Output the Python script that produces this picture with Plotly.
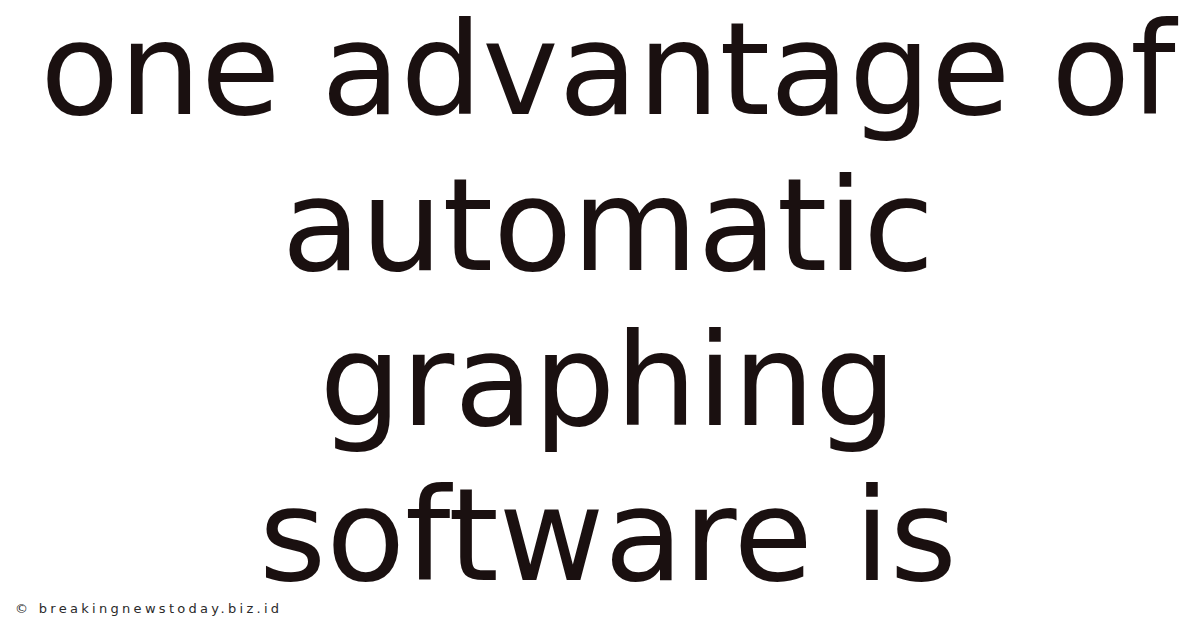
import plotly.graph_objects as go

# Text content of the graphic
title_lines = ["one advantage of", "automatic", "graphing", "software is"]
line_index = [0, 1, 2, 3]
watermark = "© breakingnewstoday.biz.id"

TEXT_COLOR = "#1a1010"

fig = go.Figure()
fig.add_trace(go.Scatter(
    x=[0.5] * len(title_lines),
    y=line_index,
    mode="text",
    text=title_lines,
    textposition="middle center",
    textfont=dict(family="DejaVu Sans", size=129, color=TEXT_COLOR),
    hoverinfo="skip",
    showlegend=False,
))

fig.add_annotation(
    text='<span style="letter-spacing:3.3px">' + watermark + "</span>",
    xref="paper", yref="paper",
    x=0.004, y=0.043, xanchor="left", yanchor="middle",
    showarrow=False,
    font=dict(family="DejaVu Sans", size=13, color="#2a2a2a"),
)

fig.update_layout(
    width=1200, height=628,
    margin=dict(l=0, r=0, t=0, b=0),
    paper_bgcolor="white", plot_bgcolor="white",
    xaxis=dict(range=[0, 1], visible=False, fixedrange=True),
    yaxis=dict(range=[3.567, -0.4765], visible=False, fixedrange=True),
)

fig.write_html("out.html")
